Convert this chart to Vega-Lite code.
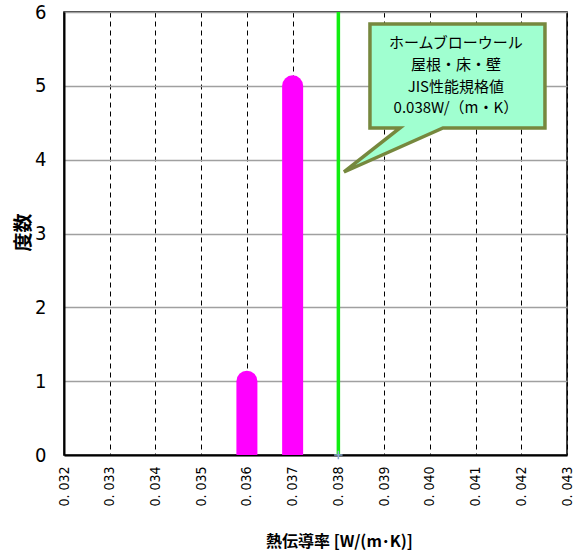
{
  "$schema": "https://vega.github.io/schema/vega-lite/v6.json",
  "width": 503,
  "height": 443,
  "autosize": {"type": "none"},
  "padding": {"left": 64, "top": 12, "right": 10, "bottom": 102},
  "background": "#ffffff",
  "config": {
    "view": {"stroke": "#000000", "strokeWidth": 1.5},
    "font": "DejaVu Sans Condensed, Liberation Sans, sans-serif"
  },
  "datasets": {
    "hist": [
      {"k": 0.036, "count": 1, "base": 0},
      {"k": 0.037, "count": 5, "base": 0}
    ],
    "spec": [
      {"k": 0.038, "y0": 0, "y1": 6}
    ],
    "callout": [
      {"o": 1, "k": 0.038691, "v": 5.838},
      {"o": 2, "k": 0.042518, "v": 5.838},
      {"o": 3, "k": 0.042518, "v": 4.429},
      {"o": 4, "k": 0.040288, "v": 4.429},
      {"o": 5, "k": 0.038123, "v": 3.833},
      {"o": 6, "k": 0.039347, "v": 4.429},
      {"o": 7, "k": 0.038691, "v": 4.429}
    ],
    "label": [
      {"k": 0.04057, "v": 5.58, "t": "ホームブローウール"},
      {"k": 0.04057, "v": 5.28, "t": "屋根・床・壁"},
      {"k": 0.04057, "v": 4.98, "t": "JIS性能規格値"},
      {"k": 0.04057, "v": 4.70, "t": "0.038W/（m・K）"}
    ]
  },
  "layer": [
    {
      "data": {"name": "hist"},
      "mark": {"type": "rule", "color": "#ff00ff", "strokeWidth": 21, "strokeCap": "round", "clip": true},
      "encoding": {
        "x": {
          "field": "k", "type": "quantitative",
          "scale": {"domain": [0.032, 0.043], "nice": false, "zero": false},
          "axis": {
            "values": [0.032, 0.033, 0.034, 0.035, 0.036, 0.037, 0.038, 0.039, 0.04, 0.041, 0.042, 0.043],
            "labelExpr": "replace(format(datum.value, '.3f'), '.', '. ')",
            "labelAngle": -90,
            "labelAlign": "right",
            "labelBaseline": "middle",
            "labelFontSize": 14,
            "labelColor": "#000000",
            "labelPadding": 11,
            "ticks": false,
            "domainColor": "#000000",
            "domainWidth": 2,
            "grid": true,
            "gridColor": "#000000",
            "gridDash": [5, 4],
            "gridWidth": 1,
            "title": "熱伝導率 [W/(m･K)]",
            "titleFont": "Noto Sans CJK JP",
            "titleFontSize": 16,
            "titleFontWeight": "bold",
            "titleColor": "#000000",
            "titleX": 275,
            "titleY": 86,
            "titleAlign": "center",
            "titleBaseline": "middle"
          }
        },
        "y": {
          "field": "count", "type": "quantitative",
          "scale": {"domain": [0, 6], "nice": false},
          "axis": {
            "values": [0, 1, 2, 3, 4, 5, 6],
            "format": "d",
            "labelFontSize": 20,
            "labelColor": "#000000",
            "labelPadding": 18,
            "ticks": false,
            "domainColor": "#000000",
            "domainWidth": 2,
            "grid": true,
            "gridColor": "#a0a0a0",
            "gridWidth": 1.5,
            "title": "度数",
            "titleFont": "Noto Sans CJK JP",
            "titleFontSize": 19,
            "titleFontWeight": "bold",
            "titleColor": "#000000",
            "titleX": -41,
            "titleY": 220,
            "titleAlign": "center",
            "titleBaseline": "middle",
            "titleAngle": -90
          }
        },
        "y2": {"field": "base"}
      }
    },
    {
      "data": {"name": "spec"},
      "mark": {"type": "rule", "color": "#11ee11", "strokeWidth": 3.5},
      "encoding": {
        "x": {"field": "k", "type": "quantitative"},
        "y": {"field": "y0", "type": "quantitative"},
        "y2": {"field": "y1"}
      }
    },
    {
      "data": {"name": "spec"},
      "mark": {"type": "point", "shape": "M-1,0L1,0M0,-1L0,1", "filled": false, "stroke": "#8aa8d0", "strokeWidth": 1.5, "size": 70, "opacity": 1},
      "encoding": {
        "x": {"field": "k", "type": "quantitative"},
        "y": {"field": "y0", "type": "quantitative"}
      }
    },
    {
      "data": {"name": "callout"},
      "mark": {"type": "line", "interpolate": "linear-closed", "fill": "#a0ffd0", "stroke": "#76883e", "strokeWidth": 3.5, "strokeJoin": "miter"},
      "encoding": {
        "x": {"field": "k", "type": "quantitative"},
        "y": {"field": "v", "type": "quantitative"},
        "order": {"field": "o", "type": "quantitative"}
      }
    },
    {
      "data": {"name": "label"},
      "mark": {"type": "text", "font": "Noto Sans CJK JP", "fontSize": 15, "color": "#000000", "align": "center", "baseline": "middle"},
      "encoding": {
        "x": {"field": "k", "type": "quantitative"},
        "y": {"field": "v", "type": "quantitative"},
        "text": {"field": "t"}
      }
    }
  ]
}
